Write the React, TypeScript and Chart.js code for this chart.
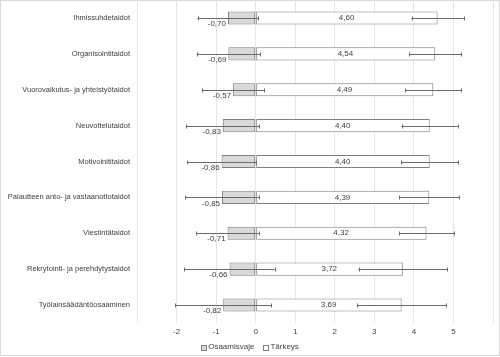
import React, { useEffect, useRef } from 'react';
import { Chart, registerables } from 'chart.js';

Chart.register(...registerables);

const categories = [
  'Ihmissuhdetaidot',
  'Organisointitaidot',
  'Vuorovaikutus- ja yhteistyötaidot',
  'Neuvottelutaidot',
  'Motivoinititaidot',
  'Palautteen anto- ja vastaanottotaidot',
  'Viestintätaidot',
  'Rekrytointi- ja perehdytystaidot',
  'Työlainsäädäntöosaaminen',
];
const osaamisvaje = [-0.7, -0.69, -0.57, -0.83, -0.86, -0.85, -0.71, -0.66, -0.82];
const tarkeys = [4.6, 4.54, 4.49, 4.4, 4.4, 4.39, 4.32, 3.72, 3.69];
const osaamisvajeErr = [0.77, 0.8, 0.79, 0.92, 0.87, 0.93, 0.79, 1.14, 1.21];
const tarkeysErr = [0.66, 0.66, 0.71, 0.71, 0.72, 0.76, 0.7, 1.12, 1.13];
const shownTicks = [-2, -1, 0, 1, 2, 3, 4, 5];
const seriesNames = ['Osaamisvaje', 'Tärkeys'];

const FONT = "'Liberation Sans', Arial, sans-serif";
const fmt = (v: number) => v.toFixed(2).replace('.', ',');

const framePlugin = {
  id: 'frame',
  beforeDraw(chart: any) {
    const ctx = chart.ctx;
    ctx.save();
    ctx.fillStyle = '#ffffff';
    ctx.fillRect(0, 0, chart.width, chart.height);
    ctx.strokeStyle = '#d9d9d9';
    ctx.lineWidth = 1;
    ctx.strokeRect(0.5, 0.5, chart.width - 1, chart.height - 2);
    ctx.restore();
  },
};

const errorPlugin = {
  id: 'errbars',
  afterDatasetsDraw(chart: any) {
    const ctx = chart.ctx;
    const xs = chart.scales.x;
    const errs = [osaamisvajeErr, tarkeysErr];
    ctx.save();
    ctx.strokeStyle = '#6a6a6a';
    ctx.lineWidth = 1;
    chart.data.datasets.forEach((ds: any, di: number) => {
      const meta = chart.getDatasetMeta(di);
      meta.data.forEach((bar: any, i: number) => {
        const v = ds.data[i];
        const e = errs[di][i];
        const x1 = xs.getPixelForValue(v - e);
        const x2 = xs.getPixelForValue(v + e);
        const y = Math.round(bar.y) + 0.5;
        ctx.beginPath();
        ctx.moveTo(x1, y);
        ctx.lineTo(x2, y);
        ctx.moveTo(Math.round(x1) + 0.5, y - 2);
        ctx.lineTo(Math.round(x1) + 0.5, y + 2);
        ctx.moveTo(Math.round(x2) + 0.5, y - 2);
        ctx.lineTo(Math.round(x2) + 0.5, y + 2);
        ctx.stroke();
      });
    });
    ctx.restore();
  },
};

const labelPlugin = {
  id: 'vlabels',
  afterDatasetsDraw(chart: any) {
    const ctx = chart.ctx;
    const xs = chart.scales.x;
    ctx.save();
    ctx.font = '8px ' + FONT;
    ctx.fillStyle = '#404040';
    ctx.textBaseline = 'middle';
    const m0 = chart.getDatasetMeta(0);
    m0.data.forEach((bar: any, i: number) => {
      const left = xs.getPixelForValue(osaamisvaje[i]);
      ctx.textAlign = 'right';
      ctx.fillText(fmt(osaamisvaje[i]), left - 2, bar.y + 6);
    });
    const m1 = chart.getDatasetMeta(1);
    m1.data.forEach((bar: any, i: number) => {
      const x0 = xs.getPixelForValue(0);
      const x1 = xs.getPixelForValue(tarkeys[i]);
      ctx.textAlign = 'center';
      ctx.fillText(fmt(tarkeys[i]), (x0 + x1) / 2, bar.y);
    });
    ctx.restore();
  },
};

const legendPlugin = {
  id: 'customLegend',
  afterDraw(chart: any) {
    const ctx = chart.ctx;
    ctx.save();
    ctx.font = '8px ' + FONT;
    ctx.textBaseline = 'middle';
    ctx.textAlign = 'left';
    const box = 5;
    const gap = 2;
    const itemGap = 9;
    const ds = chart.data.datasets;
    const widths = ds.map((d: any) => box + gap + ctx.measureText(d.label).width);
    const total = widths.reduce((a: number, b: number) => a + b, 0) + itemGap * (ds.length - 1);
    let x = chart.width / 2 - total / 2;
    const y = chart.height - 10;
    ds.forEach((d: any, i: number) => {
      ctx.fillStyle = d.backgroundColor;
      ctx.strokeStyle = d.borderColor;
      ctx.lineWidth = 1;
      ctx.fillRect(Math.round(x) + 0.5, Math.round(y - box / 2) + 0.5, box, box);
      ctx.strokeRect(Math.round(x) + 0.5, Math.round(y - box / 2) + 0.5, box, box);
      ctx.fillStyle = '#404040';
      ctx.fillText(d.label, x + box + gap, y);
      x += widths[i] + itemGap;
    });
    ctx.restore();
  },
};

export default function App() {
  const ref = useRef<HTMLCanvasElement | null>(null);

  useEffect(() => {
    document.body.style.margin = '0';
    if (!ref.current) return;
    Chart.defaults.font.family = FONT;
    Chart.defaults.font.size = 8;
    Chart.defaults.color = '#404040';
    const chart = new Chart(ref.current, {
      type: 'bar',
      data: {
        labels: categories,
        datasets: [
          {
            label: seriesNames[0],
            data: osaamisvaje,
            backgroundColor: '#d9d9d9',
            borderColor: '#7f7f7f',
            borderWidth: 1,
            borderSkipped: false,
            categoryPercentage: 1,
            barPercentage: 0.365,
          },
          {
            label: seriesNames[1],
            data: tarkeys,
            backgroundColor: '#ffffff',
            borderColor: '#808080',
            borderWidth: 1,
            borderSkipped: false,
            categoryPercentage: 1,
            barPercentage: 0.365,
          },
        ],
      },
      options: {
        indexAxis: 'y',
        responsive: false,
        animation: false,
        layout: { padding: { left: 0, right: 7, top: 0, bottom: 0 } },
        plugins: {
          tooltip: { enabled: false },
          legend: { display: false },
        },
        scales: {
          x: {
            stacked: true,
            min: -3,
            max: 6,
            ticks: {
              stepSize: 1,
              padding: 4,
              color: '#404040',
              font: { size: 8 },
              callback: (v: any) => (shownTicks.includes(Number(v)) ? String(v) : ''),
            },
            grid: { color: '#e6e6e6', drawTicks: false },
            border: { display: false },
            afterFit: (s: any) => {
              s.height = 34;
              s.paddingLeft = 0;
              s.paddingRight = 0;
            },
          },
          y: {
            stacked: true,
            ticks: { padding: 7, color: '#404040', font: { size: 7.5 } },
            grid: { display: false, drawTicks: false },
            border: { display: false },
            afterFit: (s: any) => {
              s.width = 137;
              s.paddingTop = 0;
              s.paddingBottom = 0;
            },
          },
        },
      },
      plugins: [framePlugin, errorPlugin, labelPlugin, legendPlugin],
    } as any);
    return () => chart.destroy();
  }, []);

  return <canvas ref={ref} width={500} height={357} style={{ display: 'block', width: 500, height: 357 }} />;
}
